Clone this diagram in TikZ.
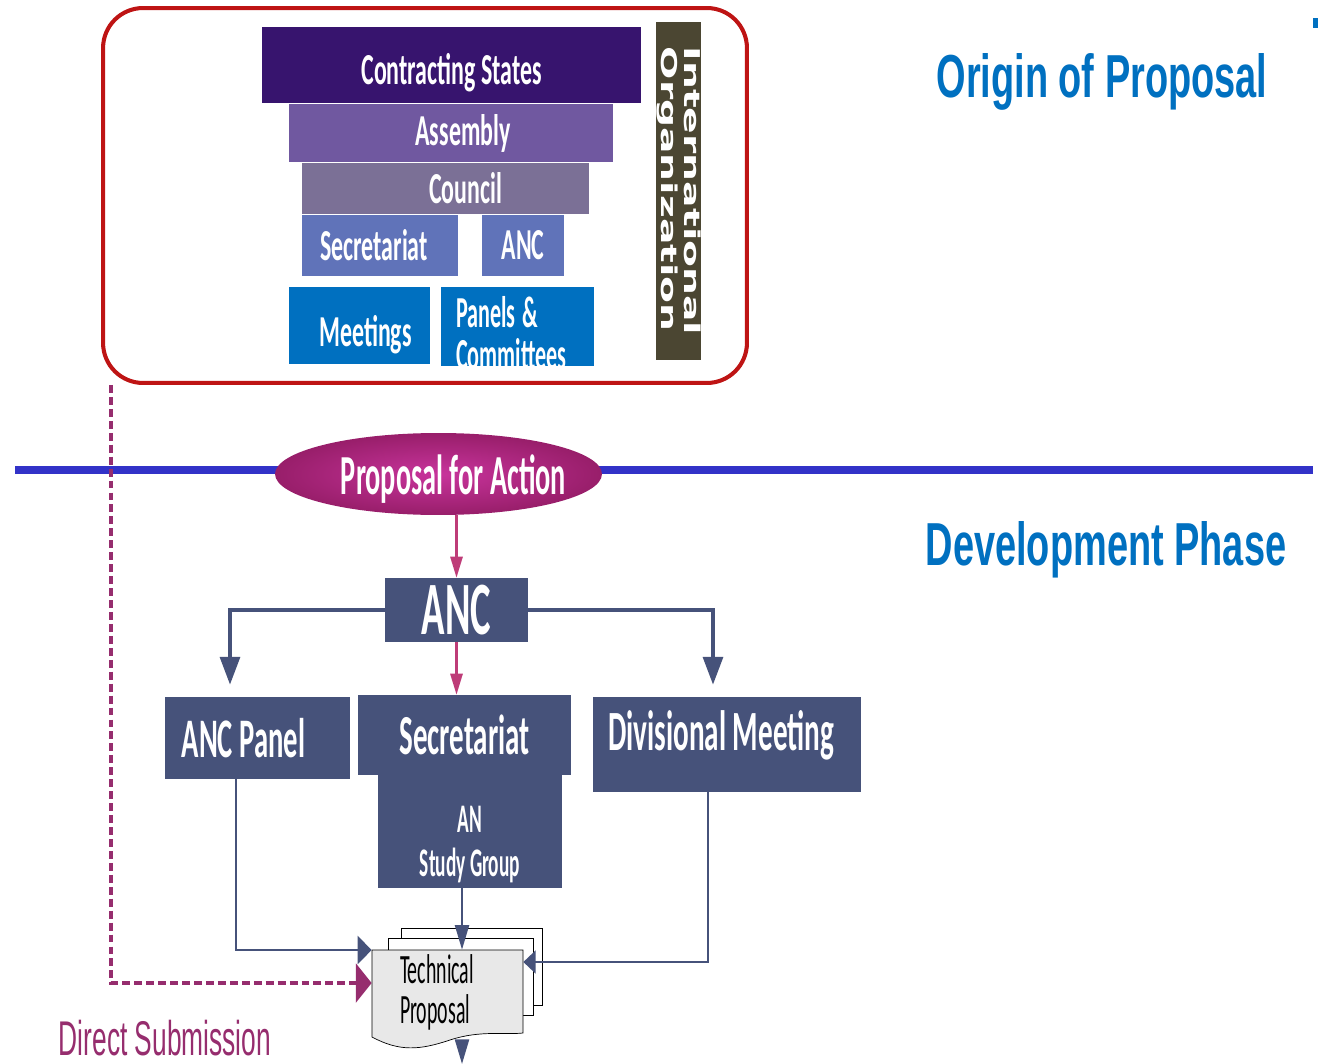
\documentclass[tikz,border=0pt]{standalone}
\usepackage{graphicx}
\usepackage{fontspec}
\setmainfont{Carlito}
\newfontfamily\headfont{Liberation Sans}
\newfontfamily\intlfont{DejaVu Sans}
\usetikzlibrary{arrows.meta,shapes.geometric}
\definecolor{framered}{HTML}{BE1414}
\definecolor{cstates}{HTML}{37146E}
\definecolor{assembly}{HTML}{7058A0}
\definecolor{council}{HTML}{7B7096}
\definecolor{secr}{HTML}{6073B9}
\definecolor{meet}{HTML}{0070C0}
\definecolor{intl}{HTML}{4B4632}
\definecolor{bluebar}{HTML}{3232C8}
\definecolor{pfalight}{HTML}{C8349C}
\definecolor{pfadark}{HTML}{981E6A}
\definecolor{magline}{HTML}{BE3C78}
\definecolor{dsmag}{HTML}{962D6E}
\definecolor{navy}{HTML}{46527A}
\definecolor{pagegray}{HTML}{E8E8E8}
\definecolor{headblue}{HTML}{0070C0}
\newcommand{\tallt}[2][1.85]{\scalebox{1}[#1]{#2}}
\newcommand{\lowered}[2]{\raisebox{#1}[\height][\depth]{#2}}
\begin{document}
\begin{tikzpicture}[x=0.02cm,y=-0.02cm,
  tier/.style={fill=#1,text=white,inner sep=0pt,font=\bfseries\fontsize{13.6}{16}\selectfont},
  navybox/.style={fill=navy,text=white,inner sep=0pt},
  navyarrow/.style={draw=navy,line width=2.8pt,-{Triangle[width=11pt,length=16pt]}},
  thinnavy/.style={draw=navy,line width=1.2pt},
  magarrow/.style={draw=magline,line width=1.2pt,-{Triangle[width=7pt,length=12pt]}},
  dashsub/.style={draw=dsmag,line width=2.4pt,dash pattern=on 4.5pt off 2.3pt,-{Triangle[width=22pt,length=9pt]}},
  heading/.style={text=headblue,font=\headfont\bfseries\fontsize{21.6}{24}\selectfont}]
\useasboundingbox (0,0) rectangle (1318,1064);
\fill[headblue] (1313,18) rectangle (1318,28);
\node[draw=framered,line width=2.3pt,rounded corners=0.8cm,minimum width=12.88cm,minimum height=7.5cm] (orgframe) at (425,195.5) {};
\node[tier=cstates,minimum width=7.58cm,minimum height=1.52cm] (states) at (451.5,65) {\lowered{-4.5pt}{\tallt{Contracting States}}};
\node[tier=assembly,minimum width=6.48cm,minimum height=1.16cm] (assembly) at (451,133) {\hspace*{0.48cm}\tallt{Assembly}};
\node[tier=council,minimum width=5.74cm,minimum height=1.02cm] (council) at (445.5,188.5) {\hspace*{0.8cm}\tallt{Council}};
\node[tier=secr,minimum width=3.12cm,minimum height=1.22cm] (secrtop) at (380,245.5) {\tallt{Secretariat}\hspace*{0.24cm}};
\node[tier=secr,minimum width=1.64cm,minimum height=1.22cm] (anctop) at (523,245.5) {\tallt{ANC}};
\node[tier=meet,minimum width=2.82cm,minimum height=1.54cm] (meetings) at (359.5,325.5) {\hspace*{0.24cm}\lowered{-5pt}{\tallt{Meetings}}};
\begin{scope}
\clip (441,287) rectangle (594,365);
\node[tier=meet,minimum width=3.06cm,minimum height=1.56cm,text width=2.46cm,align=left,font=\bfseries\fontsize{12.6}{10.5}\selectfont] (panels) at (517.5,326) {\lowered{-7pt}{\tallt[2]{\begin{tabular}{@{}l@{}}Panels \&\\Committees\end{tabular}}}};
\end{scope}
\node[fill=intl,text=white,rotate=-90,minimum width=6.76cm,minimum height=0.9cm,inner sep=0pt,font=\intlfont\bfseries\fontsize{12.4}{11.5}\selectfont] (intlorg) at (678.5,191) {\scalebox{1.8}[1]{\begin{tabular}{@{}l@{}}International\\Organization\end{tabular}}};
\node[heading] (origin) at (1102,82) {\tallt[1.6]{Origin of Proposal}};
\node[heading] (devphase) at (1106,550) {\tallt[1.6]{Development Phase}};
\draw[bluebar,line width=4.5pt] (15,470) -- (1313,470);
\node[ellipse,shading=radial,inner color=pfalight,outer color=pfadark,minimum width=6.54cm,minimum height=1.64cm,inner sep=0pt,text=white,font=\bfseries\fontsize{16.1}{18}\selectfont] (pfa) at (438.5,474) {\makebox[0pt]{\hspace*{0.6cm}\lowered{-3pt}{\tallt[2]{Proposal for Action}}}};
\node[navybox,minimum width=2.86cm,minimum height=1.28cm,font=\bfseries\fontsize{22}{24}\selectfont] (anc) at (456.5,610) {\tallt[1.95]{ANC}};
\node[navybox,minimum width=3.68cm,minimum height=2.26cm,font=\bfseries\fontsize{11}{12}\selectfont] (studygrp) at (470,831.5) {\lowered{-8pt}{\tallt[2.1]{\begin{tabular}{@{}c@{}}AN\\Study Group\end{tabular}}}};
\node[navybox,minimum width=3.7cm,minimum height=1.64cm,font=\bfseries\fontsize{16.3}{18}\selectfont] (panel) at (257.5,738) {\tallt[1.95]{ANC Panel}\hspace*{0.56cm}};
\node[navybox,minimum width=4.26cm,minimum height=1.6cm,font=\bfseries\fontsize{16.5}{18}\selectfont] (secr) at (464.5,735) {\tallt[1.95]{Secretariat}};
\node[navybox,minimum width=5.36cm,minimum height=1.9cm,font=\bfseries\fontsize{16.6}{18}\selectfont] (divmeet) at (727,744.5) {\lowered{5pt}{\tallt[1.95]{Divisional Meeting}}\hspace*{0.24cm}};
\draw[fill=white] (401,928) rectangle (542,1005);
\draw[fill=white] (388,938) rectangle (533,1015);
\draw[fill=pagegray] (372,950) -- (523,950) -- (523,1033) .. controls (505,1035) and (480,1030) .. (450,1040) .. controls (420,1050) and (400,1052) .. (372,1037) -- cycle;
\node[minimum width=3.02cm,minimum height=1.8cm,inner sep=0pt,text width=1.9cm,align=left,font=\fontsize{11.3}{10.8}\selectfont] (techprop) at (447.5,995) {\tallt[2.1]{\begin{tabular}{@{}l@{}}Technical\\Proposal\end{tabular}}};
\coordinate (panin) at (230,685);
\coordinate (divin) at (713,685);
\coordinate (tpend) at (462,1064);
\draw[magarrow] (pfa.south -| anc.north) -- (anc.north);
\draw[magarrow] (anc.south) -- (anc.south |- secr.north);
\draw[navyarrow] (anc.west) -| (panin);
\draw[navyarrow] (anc.east) -| (divin);
\draw[thinnavy,-{Triangle[width=16pt,length=8pt]}] ([xshift=-0.43cm]panel.south) |- ([yshift=0.9cm]techprop.west);
\draw[thinnavy,-{Triangle[width=13pt,length=7pt]}] ([xshift=-0.38cm]divmeet.south) |- ([yshift=0.66cm]techprop.east);
\draw[thinnavy,-{Triangle[width=8pt,length=14pt]}] ([xshift=-0.16cm]studygrp.south) -- ([xshift=-0.16cm]studygrp.south |- techprop.north);
\draw[thinnavy,-{Triangle[width=8pt,length=14pt]}] (tpend |- techprop.south) -- (tpend);
\draw[dashsub] ([xshift=0.2cm]orgframe.south west) |- ([yshift=0.24cm]techprop.west);
\node[text=dsmag,font=\headfont\fontsize{15}{16}\selectfont] (direct) at (165,1038) {\tallt[1.85]{Direct Submission}};
\end{tikzpicture}
\end{document}
